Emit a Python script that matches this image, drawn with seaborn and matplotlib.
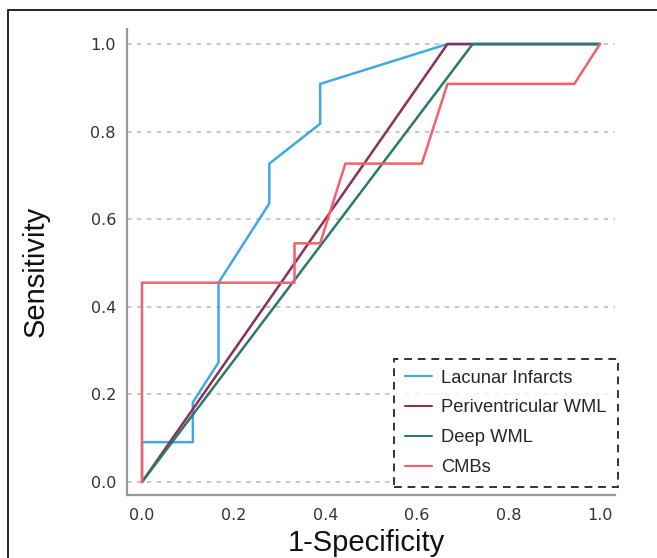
import matplotlib
matplotlib.use("Agg")
import matplotlib.pyplot as plt
import matplotlib.patches as mpatches
import numpy as np
import pandas as pd
import seaborn as sns

# ROC points (x steps of 1/18, y steps of 1/11)
markers = ["Lacunar Infarcts", "Periventricular WML", "Deep WML", "CMBs"]
colors = ["#3fa9e6", "#8d2f5e", "#2a7a6a", "#f4606c"]

lacunar_fpr = [0.0, 0.0, 0.111, 0.111, 0.167, 0.167, 0.278, 0.278, 0.389, 0.389, 0.667, 1.0]
lacunar_tpr = [0.0, 0.091, 0.091, 0.182, 0.273, 0.455, 0.636, 0.727, 0.818, 0.909, 1.0, 1.0]

pvwml_fpr = [0.0, 0.667, 1.0]
pvwml_tpr = [0.0, 1.0, 1.0]

dwml_fpr = [0.0, 0.722, 1.0]
dwml_tpr = [0.0, 1.0, 1.0]

cmb_fpr = [0.0, 0.0, 0.333, 0.333, 0.389, 0.444, 0.611, 0.667, 0.944, 1.0]
cmb_tpr = [0.0, 0.455, 0.455, 0.545, 0.545, 0.727, 0.727, 0.909, 0.909, 1.0]

yticks = [0.0, 0.2, 0.4, 0.6, 0.8, 1.0]
xticks = [0.0, 0.2, 0.4, 0.6, 0.8, 1.0]

frames = []
for name, fx, ty in zip(markers,
                        [lacunar_fpr, pvwml_fpr, dwml_fpr, cmb_fpr],
                        [lacunar_tpr, pvwml_tpr, dwml_tpr, cmb_tpr]):
    frames.append(pd.DataFrame({"fpr": fx, "tpr": ty, "marker": name}))
df = pd.concat(frames, ignore_index=True)

sns.set_style("white")
plt.rcParams["font.family"] = ["DejaVu Sans"]

fig = plt.figure(figsize=(6.57, 5.58), dpi=100)
ax = fig.add_axes([0.1933, 0.1129, 0.7428, 0.835])

sns.lineplot(data=df, x="fpr", y="tpr", hue="marker", hue_order=markers,
             palette=colors, sort=False, estimator=None, linewidth=1.8,
             ax=ax)

ax.set_xlim(-0.0328, 1.0328)
ax.set_ylim(-0.0297, 1.0342)
ax.set_xticks(xticks)
ax.set_yticks(yticks)
ax.set_xticklabels([f"{t:.1f}" for t in xticks])
ax.set_yticklabels([f"{t:.1f}" for t in yticks])
ax.tick_params(length=0, labelsize=11.5, labelcolor="#333333")
ax.tick_params(axis="y", pad=8)
ax.tick_params(axis="x", pad=9)

ax.yaxis.grid(True, color="#c4c4c4", linestyle=(0, (2.5, 3)), linewidth=1.3)
ax.xaxis.grid(False)
ax.set_axisbelow(True)

for side in ["top", "right"]:
    ax.spines[side].set_visible(False)
for side in ["left", "bottom"]:
    ax.spines[side].set_color("#999999")
    ax.spines[side].set_linewidth(1.6)

ax.set_xlabel("1-Specificity", fontsize=21, family="Liberation Sans", color="#111111")
ax.set_ylabel("Sensitivity", fontsize=21, family="Liberation Sans", color="#111111")
ax.xaxis.set_label_coords(0.49, -0.073)
ax.yaxis.set_label_coords(-0.158, 0.479)

leg = ax.legend(loc="lower right", bbox_to_anchor=(1.006, 0.017),
                borderaxespad=0, frameon=True, fancybox=False,
                prop={"family": "Liberation Sans", "size": 13.2},
                handlelength=1.5, handletextpad=0.5, labelspacing=0.7,
                borderpad=0.6)
frame = leg.get_frame()
frame.set_edgecolor("black")
frame.set_linestyle((0, (4, 3)))
frame.set_linewidth(1.4)
for line in leg.get_lines():
    line.set_linewidth(1.5)

# outer border of the original figure panel
fig.add_artist(mpatches.Rectangle((8 / 657, -0.05), 1.0, 0.982 + 0.05,
                                  transform=fig.transFigure, fill=False,
                                  edgecolor="black", linewidth=1.2))

fig.savefig("out.png", dpi=100)
